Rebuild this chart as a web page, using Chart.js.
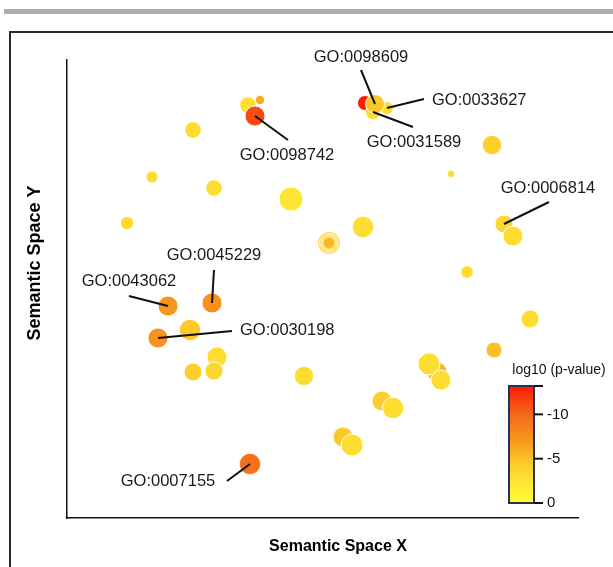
<!DOCTYPE html>
<html>
<head>
<meta charset="utf-8">
<script src="https://cdn.jsdelivr.net/npm/chart.js@4"></script>
<style>
  html, body { margin: 0; padding: 0; background: #fff; }
  canvas { display: block; }
</style>
</head>
<body>
<canvas id="myChart" width="613" height="567"></canvas>
<script>
// semantic space coordinates, bubble size and log10 p-value of each GO term
var termX = [-1.49, -1.25, -1.35, 0.85, 1.29, 1.01, 1.05, -2.59, -3.41, -2.17, -0.63, -3.91, 0.13,
  3.39, 2.57, 0.81, 3.63, 3.81, 2.89, -3.09, -2.21, -2.65, -3.29, -2.11, -2.59, -2.17, -0.37,
  4.15, 3.43, 2.29, 2.13, 2.37, 1.19, 1.41, 0.41, 0.59, -1.45];
var termY = [3.68, 3.78, 3.46, 3.72, 3.62, 3.54, 3.70, 3.18, 2.24, 2.02, 1.80, 1.32, 0.92,
  2.88, 2.30, 1.24, 1.30, 1.06, 0.34, -0.34, -0.28, -0.82, -0.98, -1.36, -1.66, -1.64, -1.74,
  -0.60, -1.22, -1.66, -1.50, -1.82, -2.24, -2.38, -2.96, -3.12, -3.50];
var termSize = [8.3, 4.7, 10, 7.5, 6.5, 7.5, 9.5, 8.3, 6, 8.3, 12, 6.7, 11,
  9.7, 3.7, 10.7, 9, 10, 6.3, 10, 10, 10.7, 10, 10, 9, 9, 9.7,
  9, 8, 10, 11, 10, 10, 10.7, 10, 11, 10.7];
var logP = [-3, -6, -11.3, -13.2, -3, -3, -4.5, -3, -3, -3, -2.5, -3, -4,
  -4, -3, -3, -3.5, -3, -3, -7.2, -7.5, -4.5, -7.3, -3, -4, -3.5, -3,
  -3, -5, -5.5, -3, -3, -4, -3, -4.5, -3, -9.5];
var ringTerm = 12; // drawn with rings in the original

// labelled terms: index into the arrays above
var labelIds = ['GO:0098609', 'GO:0033627', 'GO:0031589', 'GO:0098742', 'GO:0006814',
  'GO:0045229', 'GO:0043062', 'GO:0030198', 'GO:0007155'];
var labelTerm = [6, 4, 5, 2, 16, 20, 19, 22, 36];

var scaleTicks = [0, -5, -10];
var scaleMin = -13.2;

// label placement (pixels from the bubble): text pos, line end, text align
var labelPos = [
  [-14, -47, -14, -34, 'center'],
  [45, -8, 37, -9, 'left'],
  [41, 30, 40, 15, 'center'],
  [32, 39, 33, 24, 'center'],
  [44, -36, 45, -22, 'center'],
  [2, -48, 2, -33, 'center'],
  [-39, -25, -39, -10, 'center'],
  [82, -8, 74, -7, 'left'],
  [-82, 17, -23, 17, 'center']
];

var stops = [[0, [255, 255, 51]], [0.2, [254, 226, 51]], [0.35, [252, 199, 42]],
  [0.55, [247, 148, 29]], [0.75, [243, 107, 28]], [1, [255, 26, 0]]];

function colorFor(v) {
  var t = Math.max(0, Math.min(1, v / scaleMin));
  for (var i = 1; i < stops.length; i++) {
    if (t <= stops[i][0]) {
      var a = stops[i - 1], b = stops[i];
      var f = (t - a[0]) / (b[0] - a[0]);
      var c = a[1].map(function (x, k) { return Math.round(x + (b[1][k] - x) * f); });
      return 'rgb(' + c.join(',') + ')';
    }
  }
  return 'rgb(255,26,0)';
}

// ringed bubble as an image point style
var ring = document.createElement('canvas');
ring.width = 24; ring.height = 24;
var rc = ring.getContext('2d');
rc.fillStyle = '#fdd84a';
rc.beginPath(); rc.arc(12, 12, 11, 0, Math.PI * 2); rc.fill();
rc.strokeStyle = '#fff'; rc.lineWidth = 1;
[9.4, 7.2].forEach(function (r) { rc.beginPath(); rc.arc(12, 12, r, 0, Math.PI * 2); rc.stroke(); });
rc.fillStyle = '#f9b42a';
rc.beginPath(); rc.arc(12, 12, 4.8, 0, Math.PI * 2); rc.fill();

var points = termX.map(function (x, i) { return { x: x, y: termY[i], r: termSize[i] }; });

var decor = {
  id: 'decor',
  beforeDraw: function (chart) {
    var c = chart.ctx;
    c.save();
    c.fillStyle = '#adadad';
    c.fillRect(4, 9, 609, 5);
    c.strokeStyle = '#2b2b2b';
    c.lineWidth = 2;
    c.beginPath();
    c.moveTo(10, 567); c.lineTo(10, 32); c.lineTo(613, 32);
    c.stroke();
    c.restore();
  },
  afterDraw: function (chart) {
    var c = chart.ctx;
    var xs = chart.scales.x, ys = chart.scales.y;
    c.save();
    // leader lines and GO labels
    c.font = '16.5px "Liberation Sans", Arial, sans-serif';
    c.fillStyle = '#1a1a1a';
    c.strokeStyle = '#111';
    c.lineWidth = 2;
    c.textBaseline = 'middle';
    labelIds.forEach(function (id, k) {
      var i = labelTerm[k], p = labelPos[k];
      var px = xs.getPixelForValue(termX[i]), py = ys.getPixelForValue(termY[i]);
      c.beginPath();
      c.moveTo(px, py);
      c.lineTo(px + p[2], py + p[3]);
      c.stroke();
      c.textAlign = p[4];
      c.fillText(id, px + p[0], py + p[1]);
    });

    // axis titles
    c.textAlign = 'center';
    c.fillStyle = '#000';
    c.font = 'bold 16px "Liberation Sans", Arial, sans-serif';
    c.fillText('Semantic Space X', 338, 547);
    c.save();
    c.translate(35, 263);
    c.rotate(-Math.PI / 2);
    c.font = 'bold 18px "Liberation Sans", Arial, sans-serif';
    c.fillText('Semantic Space Y', 0, 0);
    c.restore();

    // colour scale
    var bx = 509, bw = 25, top = 386, bot = 503;
    var g = c.createLinearGradient(0, bot, 0, top);
    stops.forEach(function (s) { g.addColorStop(s[0], 'rgb(' + s[1].join(',') + ')'); });
    c.fillStyle = g;
    c.fillRect(bx, top, bw, bot - top);
    c.strokeStyle = '#2a3050';
    c.lineWidth = 2;
    c.strokeRect(bx, top, bw, bot - top);
    c.strokeStyle = '#111';
    c.fillStyle = '#111';
    c.font = '15px "Liberation Sans", Arial, sans-serif';
    c.textAlign = 'left';
    var ticks = scaleTicks.concat([scaleMin]);
    ticks.forEach(function (t) {
      var y = bot + (top - bot) * (t / scaleMin);
      c.beginPath(); c.moveTo(bx + bw, y); c.lineTo(bx + bw + 9, y); c.stroke();
      if (scaleTicks.indexOf(t) >= 0) c.fillText(String(t), bx + bw + 13, y);
    });
    c.font = '14px "Liberation Sans", Arial, sans-serif';
    c.textAlign = 'center';
    c.fillText('log10 (p-value)', 559, 370);
    c.restore();
  }
};

var ctx = document.getElementById('myChart').getContext('2d');
var chart = new Chart(ctx, {
  type: 'bubble',
  data: {
    datasets: [{
      data: points,
      backgroundColor: logP.map(colorFor),
      borderColor: 'rgba(255,255,255,0.9)',
      borderWidth: 1,
      hoverBorderWidth: 1,
      pointStyle: function (c) { return c.dataIndex === ringTerm ? ring : 'circle'; }
    }]
  },
  options: {
    responsive: false,
    animation: false,
    events: [],
    layout: { padding: { left: 67, top: 60, right: 35, bottom: 49 } },
    plugins: { legend: { display: false }, tooltip: { enabled: false } },
    scales: {
      x: {
        type: 'linear', min: -5.11, max: 5.11,
        grid: { display: false, drawTicks: false },
        ticks: { display: false },
        border: { display: true, color: '#111', width: 1.5 }
      },
      y: {
        type: 'linear', min: -4.58, max: 4.58,
        grid: { display: false, drawTicks: false },
        ticks: { display: false },
        border: { display: true, color: '#111', width: 1.5 }
      }
    }
  },
  plugins: [decor]
});
</script>
</body>
</html>
